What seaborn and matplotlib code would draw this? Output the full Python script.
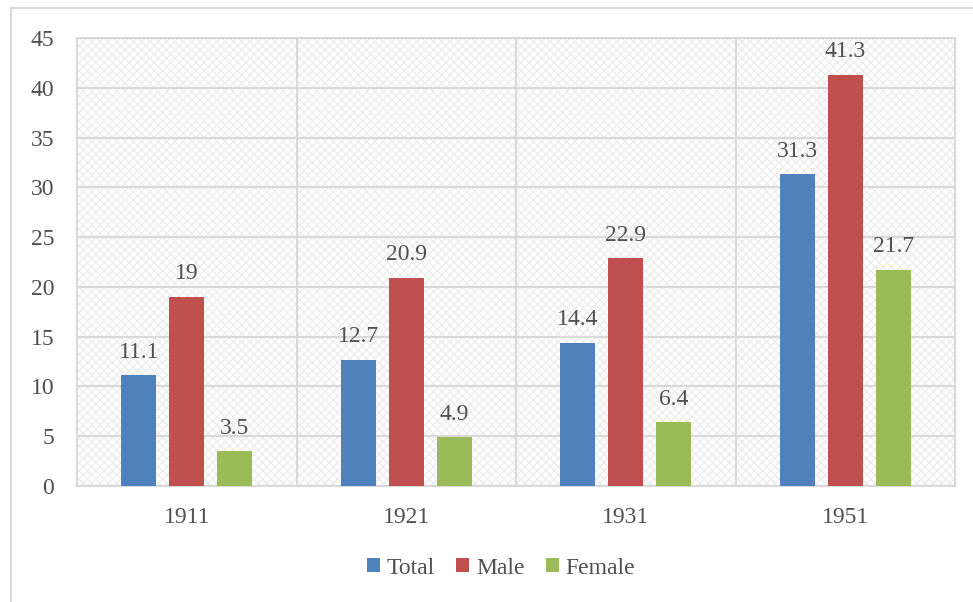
import matplotlib
matplotlib.use("Agg")
import matplotlib.pyplot as plt
import seaborn as sns
import pandas as pd
from matplotlib.patches import Rectangle

years = ["1911", "1921", "1931", "1951"]
series = ["Total", "Male", "Female"]
total = [11.1, 12.7, 14.4, 31.3]
male = [19, 20.9, 22.9, 41.3]
female = [3.5, 4.9, 6.4, 21.7]
colors = ["#4F81BD", "#C0504D", "#9BBB59"]
yticks = [0, 5, 10, 15, 20, 25, 30, 35, 40, 45]

rows = []
for s, vals in zip(series, [total, male, female]):
    for y, v in zip(years, vals):
        rows.append({"Year": y, "Series": s, "Value": v})
df = pd.DataFrame(rows)

sns.set_theme(style="white")
plt.rcParams["font.family"] = ["Liberation Serif", "DejaVu Serif"]
TXT = "#505050"
FS = 17

fig = plt.figure(figsize=(9.73, 6.02), dpi=100)
ax = fig.add_axes([77 / 973, 1 - 486 / 602, (955 - 77) / 973, (486 - 38) / 602])

# outer chart border
fig.patches.append(Rectangle((11 / 973, -0.05), 1.2, 1 - 8 / 602 + 0.05,
                             transform=fig.transFigure, fill=False,
                             edgecolor="#D9D9D9", linewidth=1.5, zorder=0))

ax.set_facecolor("white")
bg = Rectangle((0, 0), 1, 1, transform=ax.transAxes, facecolor="white",
               edgecolor="#EDEDED", hatch="xxxx", linewidth=0, zorder=0)
ax.add_patch(bg)

sns.barplot(data=df, x="Year", y="Value", hue="Series", palette=colors,
            width=0.655, gap=0.27, ax=ax, saturation=1, zorder=3,
            edgecolor="none", linewidth=0)

ax.set_ylim(0, 45)
ax.set_xlim(-0.5, 3.5)
ax.set_yticks(yticks)
ax.set_yticklabels([str(t) for t in yticks])
for t in yticks:
    ax.axhline(t, color="#D9D9D9", linewidth=1.5, zorder=1)
for b in [0.5, 1.5, 2.5]:
    ax.axvline(b, color="#D9D9D9", linewidth=1.5, zorder=1)

for sp in ax.spines.values():
    sp.set_visible(True)
    sp.set_color("#D9D9D9")
    sp.set_linewidth(1.5)

for cont in ax.containers:
    labels = [f"{v:g}" for v in cont.datavalues]
    ax.bar_label(cont, labels=labels, padding=9, fontsize=FS, color=TXT)

ax.set_xlabel("")
ax.set_ylabel("")
ax.tick_params(axis="x", length=0, pad=15, labelsize=FS, labelcolor=TXT)
ax.tick_params(axis="y", length=0, pad=16.5, labelsize=FS, labelcolor=TXT)
ax.grid(False)

leg = ax.legend(loc="center", bbox_to_anchor=(0.483, -(568 - 486) / 448), ncol=3,
                frameon=False, fontsize=FS, handlelength=0.55, handleheight=0.55,
                handletextpad=0.28, columnspacing=0.9, labelcolor=TXT)

fig.savefig("out.png", dpi=100)
